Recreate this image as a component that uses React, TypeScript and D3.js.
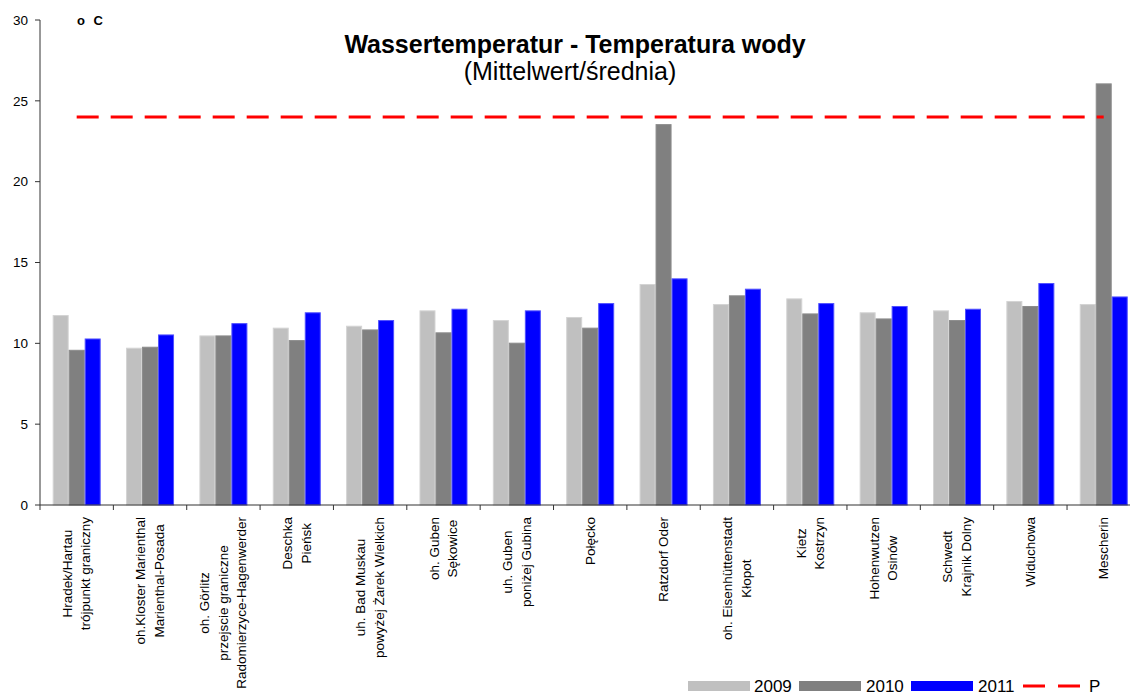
import React, { useEffect, useRef } from "react";
import * as d3 from "d3";

const stations: string[][] = [
  ["Hradek/Hartau", "trójpunkt graniczny"],
  ["oh.Kloster Marienthal", "Marienthal-Posada"],
  ["oh. Görlitz", "przejscie graniczne", "Radomierzyce-Hagenwerder"],
  ["Deschka", "Pieńsk"],
  ["uh. Bad Muskau", "powyżej Żarek Wielkich"],
  ["oh. Guben", "Sękowice"],
  ["uh. Guben", "poniżej Gubina"],
  ["Połęcko"],
  ["Ratzdorf Oder"],
  ["oh. Eisenhüttenstadt", "Kłopot"],
  ["Kietz", "Kostrzyn"],
  ["Hohenwutzen", "Osinów"],
  ["Schwedt", "Krajnik Dolny"],
  ["Widuchowa"],
  ["Mescherin"],
];

const years = ["2009", "2010", "2011"];
const values2009 = [11.75, 9.73, 10.49, 10.97, 11.09, 12.04, 11.44, 11.63, 13.67, 12.43, 12.78, 11.92, 12.04, 12.62, 12.43];
const values2010 = [9.6, 9.79, 10.49, 10.2, 10.86, 10.68, 10.04, 10.97, 23.56, 12.97, 11.85, 11.54, 11.44, 12.31, 26.08];
const values2011 = [10.3, 10.55, 11.25, 11.92, 11.44, 12.14, 12.04, 12.49, 14.02, 13.38, 12.49, 12.31, 12.14, 13.73, 12.9];
const limitP = 24;
const yTicks = [0, 5, 10, 15, 20, 25, 30];
const colors = ["#C0C0C0", "#808080", "#0000FF"];
const edgeColors = ["#D4D4D4", "#8C8C8C", "#5050FF"];

const FONT = "'Liberation Sans', Arial, Helvetica, sans-serif";

export default function App() {
  const ref = useRef<SVGSVGElement | null>(null);

  useEffect(() => {
    const svg = d3.select(ref.current);
    svg.selectAll("*").remove();

    const left = 40;
    const right = 1140.4;
    const top = 20;
    const bottom = 505;

    const keys = stations.map((s) => s.join(" "));
    const x0 = d3.scaleBand<string>().domain(keys).range([left, right]).padding(0);
    const bw = x0.bandwidth();
    const barW = 16;
    const pad = (bw - barW * 3) / 2;
    const x1 = d3.scaleBand<string>().domain(years).range([pad, bw - pad]).padding(0);
    const y = d3.scaleLinear().domain([0, 30]).range([bottom, top]);

    const series = [values2009, values2010, values2011];

    // bars
    const g = svg.append("g");
    keys.forEach((k, i) => {
      years.forEach((yr, j) => {
        const v = series[j][i];
        g.append("rect")
          .attr("x", (x0(k) as number) + (x1(yr) as number) + 0.5)
          .attr("y", y(v) + 0.5)
          .attr("width", x1.bandwidth() - 1)
          .attr("height", y(0) - y(v) - 0.5)
          .attr("fill", colors[j])
          .attr("stroke", edgeColors[j])
          .attr("stroke-width", 1);
      });
    });

    // P line
    svg
      .append("line")
      .attr("x1", (x0(keys[0]) as number) + bw / 2)
      .attr("x2", (x0(keys[keys.length - 1]) as number) + bw / 2)
      .attr("y1", y(limitP))
      .attr("y2", y(limitP))
      .attr("stroke", "#FF0000")
      .attr("stroke-width", 3)
      .attr("stroke-dasharray", "22,12");

    // y axis
    const axisColor = "#333";
    svg
      .append("line")
      .attr("x1", left)
      .attr("x2", left)
      .attr("y1", top)
      .attr("y2", bottom)
      .attr("stroke", axisColor);
    yTicks.forEach((t) => {
      svg
        .append("line")
        .attr("x1", left - 5)
        .attr("x2", left)
        .attr("y1", y(t))
        .attr("y2", y(t))
        .attr("stroke", axisColor);
      svg
        .append("text")
        .attr("x", 28)
        .attr("y", y(t))
        .attr("dy", "0.35em")
        .attr("text-anchor", "end")
        .attr("font-family", FONT)
        .attr("font-size", 13.5)
        .attr("fill", "#000")
        .text(String(t));
    });

    // x axis
    svg
      .append("line")
      .attr("x1", left)
      .attr("x2", right)
      .attr("y1", bottom)
      .attr("y2", bottom)
      .attr("stroke", axisColor);
    keys.forEach((k) => {
      const xx = x0(k) as number;
      svg
        .append("line")
        .attr("x1", xx)
        .attr("x2", xx)
        .attr("y1", bottom)
        .attr("y2", bottom + 5)
        .attr("stroke", axisColor);
    });

    // x labels (rotated, centered block)
    const lineGap = 18.5;
    stations.forEach((lines, i) => {
      const cx = (x0(keys[i]) as number) + bw / 2;
      const lg = svg
        .append("g")
        .attr("transform", `translate(${cx},517) rotate(-90)`);
      const texts = lines.map((ln, li) =>
        lg
          .append("text")
          .attr("text-anchor", "middle")
          .attr("dominant-baseline", "central")
          .attr("y", (li - (lines.length - 1) / 2) * lineGap)
          .attr("font-family", FONT)
          .attr("font-size", 13.5)
          .attr("fill", "#000")
          .text(ln)
      );
      let maxLen = 0;
      texts.forEach((t) => {
        const n = t.node() as SVGTextElement;
        maxLen = Math.max(maxLen, n.getComputedTextLength());
      });
      texts.forEach((t) => t.attr("x", -maxLen / 2));
    });

    // titles
    svg
      .append("text")
      .attr("x", 575)
      .attr("y", 53)
      .attr("text-anchor", "middle")
      .attr("font-family", FONT)
      .attr("font-weight", "bold")
      .attr("font-size", 25)
      .text("Wassertemperatur - Temperatura wody");
    svg
      .append("text")
      .attr("x", 570)
      .attr("y", 80)
      .attr("text-anchor", "middle")
      .attr("font-family", FONT)
      .attr("font-size", 25)
      .text("(Mittelwert/średnia)");
    svg
      .append("text")
      .attr("x", 77)
      .attr("y", 25)
      .attr("font-family", FONT)
      .attr("font-weight", "bold")
      .attr("font-size", 13)
      .attr("word-spacing", 5)
      .text("o C");

    // legend
    const legY = 681;
    const legend = [
      { sw: 688, tx: 754, label: years[0], color: colors[0] },
      { sw: 799, tx: 866, label: years[1], color: colors[1] },
      { sw: 911, tx: 978, label: years[2], color: colors[2] },
    ];
    legend.forEach((l) => {
      svg
        .append("rect")
        .attr("x", l.sw)
        .attr("y", legY)
        .attr("width", 62)
        .attr("height", 10)
        .attr("fill", l.color);
      svg
        .append("text")
        .attr("x", l.tx)
        .attr("y", legY + 11)
        .attr("font-family", FONT)
        .attr("font-size", 17)
        .text(l.label);
    });
    svg
      .append("line")
      .attr("x1", 1023)
      .attr("x2", 1080)
      .attr("y1", legY + 5)
      .attr("y2", legY + 5)
      .attr("stroke", "#FF0000")
      .attr("stroke-width", 3)
      .attr("stroke-dasharray", "22,13");
    svg
      .append("text")
      .attr("x", 1089)
      .attr("y", legY + 11)
      .attr("font-family", FONT)
      .attr("font-size", 17)
      .text("P");
  }, []);

  return (
    <svg
      ref={ref}
      width={1130}
      height={695}
      style={{ position: "absolute", left: 0, top: 0, background: "#fff" }}
    />
  );
}
